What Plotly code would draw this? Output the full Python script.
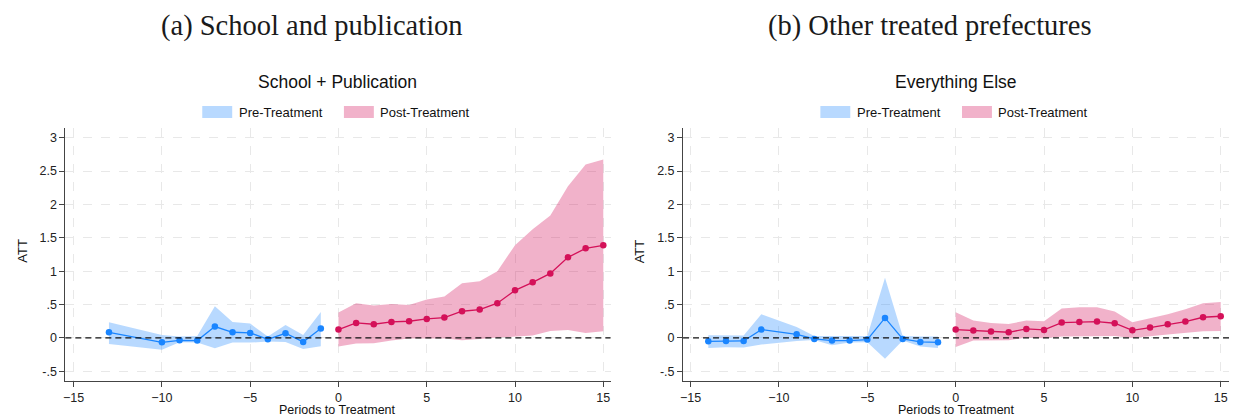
import plotly.graph_objects as go

# ---- event-study estimates -------------------------------------------------
# Panel (a): School + Publication
pre_x_a = [-13, -10, -9, -8, -7, -6, -5, -4, -3, -2, -1]
pre_att_a = [0.085, -0.065, -0.035, -0.04, 0.17, 0.085, 0.075, -0.02, 0.07, -0.06, 0.14]
pre_hi_a = [0.235, 0.045, 0.02, 0.03, 0.474, 0.24, 0.215, 0.02, 0.195, 0.045, 0.39]
pre_lo_a = [-0.09, -0.175, -0.065, -0.07, -0.155, -0.07, -0.07, -0.055, -0.06, -0.165, -0.125]

post_x_a = list(range(0, 16))
post_att_a = [0.125, 0.225, 0.205, 0.24, 0.25, 0.285, 0.305, 0.40, 0.425, 0.52,
              0.713, 0.833, 0.967, 1.207, 1.342, 1.387]
post_hi_a = [0.38, 0.52, 0.485, 0.51, 0.495, 0.575, 0.62, 0.82, 0.85, 1.0,
             1.39, 1.63, 1.835, 2.274, 2.60, 2.673]
post_lo_a = [-0.13, -0.085, -0.08, -0.04, -0.01, -0.005, -0.01, -0.035, -0.015, 0.005,
             0.025, 0.035, 0.105, 0.12, 0.075, 0.10]

# Panel (b): Everything Else
pre_x_b = [-14, -13, -12, -11, -9, -8, -7, -6, -5, -4, -3, -2, -1]
pre_att_b = [-0.05, -0.045, -0.045, 0.125, 0.055, -0.015, -0.04, -0.04, -0.025, 0.30,
             -0.015, -0.06, -0.065]
pre_hi_b = [0.04, 0.035, 0.035, 0.355, 0.165, 0.03, 0.03, 0.02, 0.03, 0.90, 0.03, 0.02, 0.02]
pre_lo_b = [-0.15, -0.14, -0.145, -0.10, -0.045, -0.03, -0.11, -0.07, -0.065, -0.31,
            -0.04, -0.13, -0.15]

post_x_b = list(range(0, 16))
post_att_b = [0.125, 0.11, 0.095, 0.085, 0.135, 0.12, 0.23, 0.24, 0.245, 0.22,
              0.115, 0.155, 0.205, 0.245, 0.31, 0.325]
post_hi_b = [0.385, 0.26, 0.225, 0.21, 0.26, 0.25, 0.44, 0.46, 0.46, 0.395,
             0.235, 0.29, 0.355, 0.43, 0.52, 0.54]
post_lo_b = [-0.135, -0.04, -0.035, -0.035, 0.005, -0.005, 0.02, 0.02, 0.025, 0.03,
             0.0, 0.025, 0.05, 0.07, 0.10, 0.105]

y_tickvals = [-0.5, 0, 0.5, 1, 1.5, 2, 2.5, 3]
y_ticktext = ["-.5", "0", ".5", "1", "1.5", "2", "2.5", "3"]
x_tickvals = [-15, -10, -5, 0, 5, 10, 15]

panel_titles = ["(a) School and publication", "(b) Other treated prefectures"]
plot_titles = ["School + Publication", "Everything Else"]
legend_labels = ["Pre-Treatment", "Post-Treatment"]
x_label = "Periods to Treatment"
y_label = "ATT"

# ---- styling ---------------------------------------------------------------
W, H = 1233, 416
BLUE = "#1a85ff"
PINK = "#d41159"
BLUE_FILL = "rgba(26,133,255,0.31)"
PINK_FILL = "rgba(212,17,89,0.32)"
SANS = "Liberation Sans, Arial, sans-serif"
SERIF = "Liberation Serif, Times New Roman, serif"
AXIS_COL = "#444444"
GRID_COL = "#e8e8e8"


def px(x):
    return x / W


def py(y):
    return 1 - y / H


# plot-area pixel boxes for the two panels
boxes = [(62.5, 609.0), (681.7, 1229.0)]
y_top, y_bot = 128.0, 381.0
x_ranges = [[-15.47, 15.41], [-15.43, 15.47]]
y_range = [-0.645, 3.145]

fig = go.Figure()

panels = [
    (pre_x_a, pre_att_a, pre_hi_a, pre_lo_a, post_x_a, post_att_a, post_hi_a, post_lo_a),
    (pre_x_b, pre_att_b, pre_hi_b, pre_lo_b, post_x_b, post_att_b, post_hi_b, post_lo_b),
]

for i, (prx, pra, prh, prl, pox, poa, poh, pol) in enumerate(panels):
    xa = "x" if i == 0 else "x2"
    ya = "y" if i == 0 else "y2"
    # confidence bands
    for xs, hi, lo, fc in [(prx, prh, prl, BLUE_FILL), (pox, poh, pol, PINK_FILL)]:
        fig.add_trace(go.Scatter(
            x=list(xs) + list(xs)[::-1], y=list(hi) + list(lo)[::-1],
            fill="toself", fillcolor=fc, line=dict(width=0), mode="lines",
            hoverinfo="skip", showlegend=False, xaxis=xa, yaxis=ya))
    # point estimates
    for xs, att, col in [(prx, pra, BLUE), (pox, poa, PINK)]:
        fig.add_trace(go.Scatter(
            x=xs, y=att, mode="lines+markers",
            line=dict(color=col, width=1.3),
            marker=dict(color=col, size=6.5),
            showlegend=False, xaxis=xa, yaxis=ya))

axis_common = dict(
    showline=True, linecolor=AXIS_COL, linewidth=1, mirror=False,
    ticks="outside", ticklen=5, tickcolor=AXIS_COL, tickwidth=1,
    showgrid=True, gridcolor=GRID_COL, griddash="dash", gridwidth=1,
    zeroline=False, tickfont=dict(family=SANS, size=12.5, color="#222222"),
)

layout_axes = {}
for i, (x0, x1) in enumerate(boxes):
    sfx = "" if i == 0 else "2"
    layout_axes["xaxis" + sfx] = dict(
        axis_common, domain=[px(x0), px(x1)], range=x_ranges[i],
        tickvals=x_tickvals, anchor="y" + sfx)
    layout_axes["yaxis" + sfx] = dict(
        axis_common, domain=[py(y_bot), py(y_top)], range=y_range,
        tickvals=y_tickvals, ticktext=y_ticktext, anchor="x" + sfx)

shapes = []
annotations = []
for i, (x0, x1) in enumerate(boxes):
    sfx = "" if i == 0 else "2"
    cx = (x0 + x1) / 2
    # zero reference line
    shapes.append(dict(type="line", xref="x" + sfx + " domain", yref="y" + sfx,
                       x0=0, x1=1, y0=0, y1=0,
                       line=dict(color="#111111", width=1.2, dash="6px,4px")))
    # legend swatches and labels
    sw = [(cx - 136, BLUE_FILL, legend_labels[0], cx - 101.5),
          (cx + 6, PINK_FILL, legend_labels[1], cx + 40.2)]
    for sx, fc, lab, tx in sw:
        shapes.append(dict(type="rect", xref="paper", yref="paper",
                           x0=px(sx), x1=px(sx + 30), y0=py(118), y1=py(106),
                           fillcolor=fc, line=dict(width=0)))
        annotations.append(dict(text=lab, x=px(tx), y=py(112.5), xref="paper", yref="paper",
                                xanchor="left", yanchor="middle", showarrow=False,
                                font=dict(family=SANS, size=13, color="#111111")))
    # plot title
    annotations.append(dict(text=plot_titles[i], x=px(cx), y=py(82), xref="paper", yref="paper",
                            xanchor="center", yanchor="middle", showarrow=False,
                            font=dict(family=SANS, size=17.5, color="#111111")))
    # panel caption
    cap_x = 310 if i == 0 else 929
    annotations.append(dict(text=panel_titles[i], x=px(cap_x), y=py(26), xref="paper", yref="paper",
                            xanchor="center", yanchor="middle", showarrow=False,
                            font=dict(family=SERIF, size=28.5, color="#1a1a1a")))
    # axis titles
    annotations.append(dict(text=x_label, x=px(cx), y=py(410), xref="paper", yref="paper",
                            xanchor="center", yanchor="middle", showarrow=False,
                            font=dict(family=SANS, size=12.5, color="#111111")))
    annotations.append(dict(text=y_label, x=px(x0 - 43.8), y=py(251), xref="paper", yref="paper",
                            xanchor="center", yanchor="middle", showarrow=False, textangle=-90,
                            font=dict(family=SANS, size=13, color="#111111")))

fig.update_layout(
    width=W, height=H, margin=dict(l=0, r=0, t=0, b=0),
    paper_bgcolor="white", plot_bgcolor="white",
    showlegend=False, shapes=shapes, annotations=annotations,
    **layout_axes,
)

fig.write_html("out.html")
